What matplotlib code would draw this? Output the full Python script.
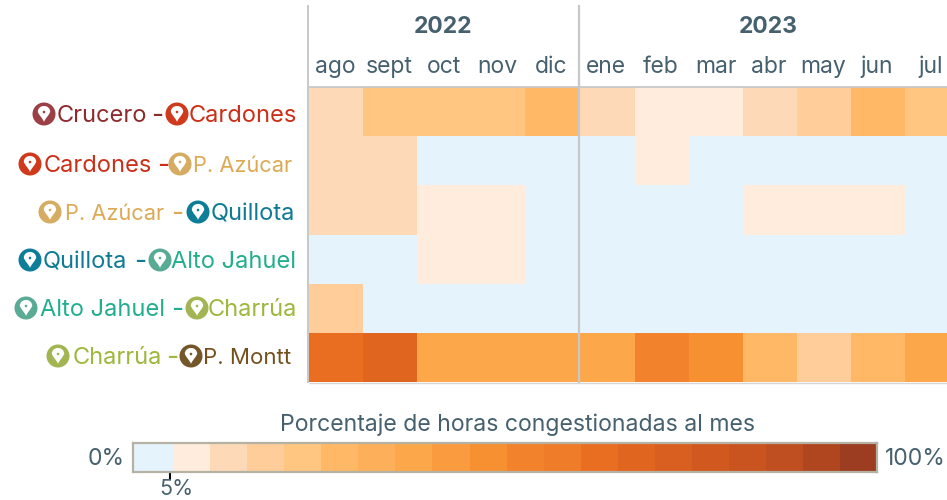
import numpy as np
import matplotlib
matplotlib.use("Agg")
import matplotlib.pyplot as plt
from matplotlib.colors import ListedColormap, BoundaryNorm
from matplotlib.path import Path
from matplotlib.patches import PathPatch, Circle, Rectangle

years = ["2022", "2023"]
months = ["ago", "sept", "oct", "nov", "dic", "ene", "feb", "mar", "abr", "may", "jun", "jul"]
routes = ["Crucero - Cardones", "Cardones - P. Azúcar", "P. Azúcar - Quillota",
          "Quillota - Alto Jahuel", "Alto Jahuel - Charrúa", "Charrúa - P. Montt"]
congestion_pct = [
    [12, 22, 22, 22, 27, 12, 7, 7, 12, 17, 27, 22],
    [12, 12, 2, 2, 2, 2, 7, 2, 2, 2, 2, 2],
    [12, 12, 7, 7, 2, 2, 2, 2, 7, 7, 7, 2],
    [2, 2, 7, 7, 2, 2, 2, 2, 2, 2, 2, 2],
    [17, 2, 2, 2, 2, 2, 2, 2, 2, 2, 2, 2],
    [62, 67, 37, 37, 37, 37, 52, 47, 27, 17, 27, 37],
]
palette = ["#e4f3fc", "#ffecdc", "#fed9b7", "#fecd9a", "#fec681", "#ffb966", "#fdb059",
           "#fba74a", "#fa9b40", "#f69031", "#f2822c", "#ef7c28", "#ea6e22", "#e0651f",
           "#d95f20", "#d1591f", "#c95420", "#bf4e20", "#b04620", "#9c3c20"]
bounds = list(range(0, 105, 5))
legend_edges = [0, 5.4] + list(np.linspace(5.4, 100, 20)[1:])
legend_title = "Porcentaje de horas congestionadas al mes"

TXT = "#46606e"
GRID = "#c8c8c8"
FONT = "Inter"
plt.rcParams["font.family"] = [FONT, "DejaVu Sans"]

W, H = 947, 500
fig = plt.figure(figsize=(W / 100, H / 100), dpi=100, facecolor="white")

def px_axes(x0, y0, x1, y1):
    return fig.add_axes([x0 / W, 1 - y1 / H, (x1 - x0) / W, (y1 - y0) / H])

cmap = ListedColormap(palette)
norm = BoundaryNorm(bounds, cmap.N)

# heatmap
ax = px_axes(309, 87, 947, 382)
step = 54.0
gap = 2 / step
xe = np.array([i + (gap if i > 5 else 0) for i in range(13)])
ye = np.arange(len(routes) + 1)
ax.pcolormesh(xe, ye, np.array(congestion_pct), cmap=cmap, norm=norm, linewidth=0, rasterized=True)
ax.set_xlim(0, 638 / step)
ax.set_ylim(len(routes), 0)
ax.axis("off")

# overlay in pixel coordinates
ov = px_axes(0, 0, W, H)
ov.set_xlim(0, W)
ov.set_ylim(H, 0)
ov.axis("off")
ov.patch.set_alpha(0)

ov.plot([308.3, 308.3], [5, 383], color=GRID, lw=1.4, solid_capstyle="butt")
ov.plot([578.5, 578.5], [5, 383], color=GRID, lw=1.6, solid_capstyle="butt")
ov.plot([309, 947], [86.5, 86.5], color=GRID, lw=1.3, solid_capstyle="butt")
ov.plot([309, 947], [382.6, 382.6], color="#d6d6d6", lw=1.0, solid_capstyle="butt")

for y, cx in zip(years, [443, 768]):
    ov.text(cx, 27, y, ha="center", va="center", fontsize=16.5, fontweight="bold", color=TXT)
for m, cx in zip(months, [335, 389, 444, 497, 551, 606, 661, 716, 769, 823, 877, 931]):
    ov.text(cx, 67, m, ha="center", va="center", fontsize=16.5, color=TXT)

def pin(cx, cy, color):
    ov.add_patch(Circle((cx, cy), 11.5, fc=color, ec="none", zorder=3))
    r = 6.2
    c = cy - 2
    verts = [(cx - r, c), (cx - r, c - r * 1.3), (cx + r, c - r * 1.3), (cx + r, c),
             (cx + r * .7, c + 4), (cx + .8, c + 7), (cx, c + 10),
             (cx - .8, c + 7), (cx - r * .7, c + 4), (cx - r, c), (cx - r, c)]
    codes = [Path.MOVETO, Path.CURVE4, Path.CURVE4, Path.CURVE4,
             Path.CURVE4, Path.CURVE4, Path.CURVE4,
             Path.CURVE4, Path.CURVE4, Path.CURVE4, Path.CLOSEPOLY]
    ov.add_patch(PathPatch(Path(verts, codes), fc="white", ec="none", zorder=4))
    ov.add_patch(Circle((cx, c), 1.3, fc=color, ec="none", zorder=5))

COL = {"Crucero": ("#8e2a2e", "#9b4145"), "Cardones": ("#cc2f17", "#cf3a1d"),
       "P. Azúcar": ("#dcaa55", "#d6ab62"), "Quillota": ("#0f7a96", "#0e7d98"),
       "Alto Jahuel": ("#22ad8f", "#5aab95"), "Charrúa": ("#9db83c", "#a3b552"),
       "P. Montt": ("#73511d", "#75562b")}
SIZE = {"P. Azúcar": 15.7, "P. Montt": 16}
# icon1_x, text1_x, dash_x, icon2_x, text2_x, y
LAY = [(44, 57, 152, 177, 189, 114), (30, 44, 158, 180, 193, 164), (50, 65, 172, 198, 211, 212),
       (30, 43, 135, 160, 171, 260), (26, 40, 172, 197, 208, 308), (58, 73, 167, 191, 203, 356)]
for route, (i1, t1, d, i2, t2, y) in zip(routes, LAY):
    a, b = route.split(" - ")
    pin(i1, y, COL[a][1])
    pin(i2, y, COL[b][1])
    ov.text(t1, y + 2, a, ha="left", va="center", fontsize=SIZE.get(a, 17), color=COL[a][0])
    ov.text(d - 1, y + 2, "-", ha="left", va="center", fontsize=19, color=COL[a][0])
    ov.text(t2, y + 2, b, ha="left", va="center", fontsize=SIZE.get(b, 17), color=COL[b][0])

# legend
lg = px_axes(133, 443, 877, 472)
lg.pcolormesh(legend_edges, [0, 1], np.array([[b + 2.5 for b in bounds[:-1]]]), cmap=cmap, norm=norm, linewidth=0)
lg.set_xlim(0, 100)
lg.set_ylim(0, 1)
lg.set_yticks([])
lg.set_xticks([5])
lg.set_xticklabels([])
lg.tick_params(axis="x", length=5, width=1.5, color="black", pad=2)
for s in lg.spines.values():
    s.set_color("#b5b1a3")
    s.set_linewidth(1.6)

ov.text(518, 425, legend_title, ha="center", va="center", fontsize=16.6, color=TXT)
ov.text(125, 459, "0%", ha="right", va="center", fontsize=16.5, color=TXT)
ov.text(885, 459, "100%", ha="left", va="center", fontsize=16.5, color=TXT)
ov.text(176, 489, "5%", ha="center", va="center", fontsize=15.5, color=TXT)

fig.savefig("out.png", dpi=100)
